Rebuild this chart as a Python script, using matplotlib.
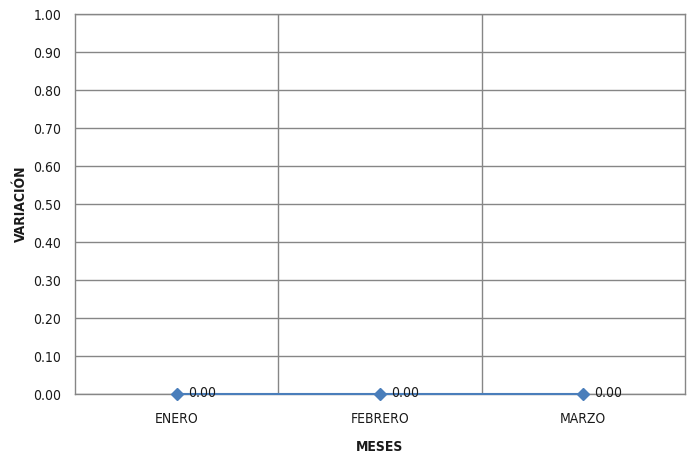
import matplotlib.pyplot as plt
import matplotlib.font_manager as fm

# datos del grafico
meses = ["ENERO", "FEBRERO", "MARZO"]
variacion = [0.00, 0.00, 0.00]
y_ticks = [0.0, 0.1, 0.2, 0.3, 0.4, 0.5, 0.6, 0.7, 0.8, 0.9, 1.0]

names = {f.name for f in fm.fontManager.ttflist}
fuente = "Liberation Sans Narrow" if "Liberation Sans Narrow" in names else "DejaVu Sans"
plt.rcParams['font.family'] = [fuente, 'DejaVu Sans']
plt.rcParams['font.stretch'] = 'condensed'

gris = "#868686"
azul = "#4a7ebb"
texto = "#1a1a1a"

fig = plt.figure(figsize=(6.88, 4.58), dpi=100)
ax = fig.add_axes([75 / 688, 1 - 394 / 458, 610 / 688, 380 / 458])

x = list(range(len(meses)))
ax.plot(x, variacion, color=azul, lw=1.5, marker="D", ms=6, zorder=5, clip_on=False)
for xi, v in zip(x, variacion):
    ax.annotate(f"{v:.2f}", (xi, v), xytext=(8, 1), textcoords="offset points",
                fontsize=10, va="center", ha="left", color=texto, zorder=6)

ax.set_xlim(-0.5, len(meses) - 0.5)
ax.set_ylim(0, 1)
ax.set_yticks(y_ticks)
ax.set_yticklabels([f"{t:.2f}" for t in y_ticks], fontsize=10)
ax.set_xticks(x)
ax.set_xticklabels(meses, fontsize=10)
ax.tick_params(axis="both", length=0, pad=10, labelcolor=texto)
ax.tick_params(axis="x", pad=13)

# lineas de cuadricula
for t in y_ticks:
    ax.axhline(t, color=gris, lw=1, zorder=1)
for b in [0.5, 1.5]:
    ax.axvline(b, color=gris, lw=1, zorder=1)
for s in ax.spines.values():
    s.set_color(gris)
    s.set_linewidth(1)
    s.set_zorder(1)

ax.set_xlabel("MESES", fontsize=10, fontweight="bold", labelpad=10, color=texto)
ax.set_ylabel("VARIACIÓN", fontsize=10, fontweight="bold", labelpad=4, color=texto)

fig.savefig("out.png", dpi=100)
